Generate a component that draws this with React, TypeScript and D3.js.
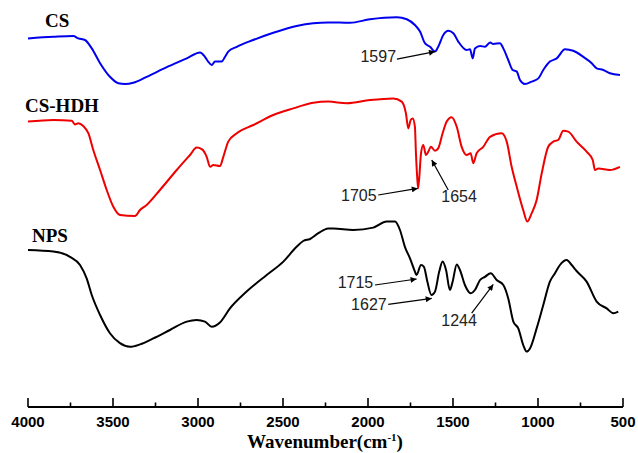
import React from "react";
import * as d3 from "d3";

// [wavenumber (cm-1), transmittance (arb. units, stacked)]
const csSeries: [number, number][] = [
  [4000, 90.4], [3851, 90.8], [3734, 91.0], [3704, 90.4], [3665, 90.0], [3625, 87.9],
  [3576, 84.2], [3518, 80.8], [3469, 79.2], [3429, 79.0], [3381, 79.3], [3302, 80.8],
  [3184, 83.2], [3066, 85.4], [2988, 86.9], [2959, 85.8], [2940, 84.6], [2919, 83.75],
  [2900, 84.6], [2861, 84.6], [2841, 85.8], [2822, 87.1], [2772, 88.3], [2675, 90.0],
  [2557, 91.8], [2420, 93.5], [2322, 94.2], [2234, 94.4], [2106, 94.3], [1988, 95.2],
  [1831, 95.7], [1772, 95.2], [1724, 93.75], [1694, 92.1], [1665, 89.2], [1635, 88.3],
  [1606, 87.1], [1587, 88.3], [1557, 91.25], [1528, 92.3], [1498, 91.7], [1469, 89.6],
  [1420, 87.5], [1400, 87.7], [1384, 85.4], [1371, 87.9], [1341, 88.5], [1312, 88.3],
  [1282, 89.4], [1263, 89.0], [1224, 89.2], [1204, 87.9], [1175, 85.0], [1149, 82.5],
  [1125, 82.1], [1106, 80.0], [1077, 79.0], [1037, 79.6], [998, 80.4], [969, 82.5],
  [930, 84.6], [890, 85.4], [841, 87.7], [793, 87.3], [734, 85.8], [684, 84.2],
  [655, 82.9], [616, 82.5], [577, 81.7], [518, 81.25],
];

const cshdhSeries: [number, number][] = [
  [4000, 69.6], [3851, 70.0], [3743, 69.8], [3724, 68.9], [3704, 69.2], [3675, 68.5],
  [3645, 66.7], [3616, 62.5], [3576, 57.5], [3537, 52.5], [3498, 48.3], [3459, 46.25],
  [3371, 46.0], [3341, 47.5], [3302, 48.75], [3224, 52.5], [3125, 57.5], [3047, 61.25],
  [3008, 63.1], [2978, 62.7], [2949, 60.8], [2929, 58.3], [2910, 58.75], [2871, 58.5],
  [2851, 60.8], [2822, 64.6], [2772, 66.7], [2675, 68.75], [2557, 71.25], [2440, 72.9],
  [2322, 74.3], [2234, 74.6], [2125, 74.2], [1988, 75.0], [1851, 75.4], [1802, 74.6],
  [1777, 71.7], [1763, 67.9], [1749, 70.0], [1737, 70.4], [1724, 68.3], [1718, 61.7],
  [1711, 56.0], [1705, 52.9], [1688, 61.7], [1675, 63.75], [1659, 61.25], [1645, 62.1],
  [1630, 63.3], [1606, 62.3], [1587, 62.9], [1561, 66.7], [1537, 69.6], [1508, 70.7],
  [1478, 68.3], [1449, 63.3], [1420, 61.25], [1396, 61.7], [1381, 59.2], [1361, 61.7],
  [1322, 63.3], [1282, 65.8], [1214, 66.7], [1184, 64.6], [1155, 58.3], [1125, 53.3],
  [1087, 47.5], [1063, 44.6], [1037, 46.7], [1008, 50.0], [978, 56.7], [940, 63.3],
  [910, 64.6], [881, 65.0], [851, 67.3], [822, 67.1], [773, 64.6], [714, 62.1],
  [678, 60.0], [665, 57.5], [645, 57.9], [577, 57.5], [518, 58.3],
];

const npsSeries: [number, number][] = [
  [4000, 37.5], [3851, 37.1], [3753, 35.8], [3694, 33.75], [3655, 30.4], [3625, 26.25],
  [3576, 21.25], [3518, 16.7], [3459, 14.2], [3400, 13.3], [3341, 13.9], [3263, 15.4],
  [3165, 17.5], [3066, 19.6], [3008, 20.0], [2959, 19.6], [2919, 18.3], [2871, 19.4],
  [2812, 22.9], [2714, 27.1], [2596, 31.25], [2498, 34.6], [2420, 38.3], [2381, 39.75],
  [2341, 40.25], [2292, 41.7], [2234, 42.9], [2204, 42.9], [2087, 42.5], [1969, 43.1],
  [1890, 44.6], [1841, 44.6], [1812, 42.5], [1783, 38.3], [1753, 35.4], [1724, 32.1],
  [1715, 31.25], [1688, 33.75], [1671, 33.3], [1651, 29.6], [1627, 26.25], [1606, 27.1],
  [1581, 32.1], [1561, 34.6], [1541, 32.5], [1518, 27.5], [1502, 29.6], [1478, 33.9],
  [1459, 32.5], [1430, 28.75], [1396, 26.7], [1371, 27.5], [1341, 30.0], [1312, 30.8],
  [1278, 31.7], [1243, 30.0], [1204, 28.75], [1175, 25.4], [1145, 19.6], [1116, 17.9],
  [1087, 13.75], [1067, 12.1], [1047, 12.9], [1008, 17.9], [969, 23.75], [930, 29.6],
  [900, 31.7], [871, 33.75], [831, 35.0], [802, 33.75], [773, 32.25], [714, 29.6],
  [655, 24.6], [596, 22.9], [557, 21.7], [528, 22.1],
];

const seriesNames = ["CS", "CS-HDH", "NPS"];
const seriesColors = ["#0000ee", "#ee0000", "#000000"];

const majorTicks = [4000, 3500, 3000, 2500, 2000, 1500, 1000, 500];
const minorTicks = [3750, 3250, 2750, 2250, 1750, 1250, 750];

// annotation: label, arrow tip (wavenumber, T), arrow tail (wavenumber, T), text anchor (wavenumber, T)
const annLabels = ["1597", "1705", "1654", "1715", "1627", "1244"];
const annTip: [number, number][] = [[1606, 87.1], [1707, 52.9], [1625, 60.0], [1714, 30.25], [1625, 25.4], [1263, 28.9]];
const annTail: [number, number][] = [[1830, 85.2], [1940, 51.25], [1528, 52.5], [1959, 28.75], [1881, 23.9], [1390, 21.7]];
const annText: [number, number][] = [[1835, 84.6], [1949, 49.75], [1464, 49.4], [1969, 27.9], [1890, 22.5], [1464, 18.5]];
const annAnchor = ["end", "end", "middle", "end", "end", "middle"];

export default function App() {
  const W = 638, H = 453;
  const x = d3.scaleLinear().domain([4000, 500]).range([28, 623]);
  const y = d3.scaleLinear().domain([0, 100]).range([400, 0]);
  const axisY = 407;
  const line = d3
    .line<[number, number]>()
    .x((d) => x(d[0]))
    .y((d) => y(d[1]))
    .curve(d3.curveMonotoneX);
  const all = [csSeries, cshdhSeries, npsSeries];
  const sans = "'Liberation Sans', Arial, sans-serif";
  const serif = "'Liberation Serif', 'Times New Roman', serif";

  return (
    <svg width={W} height={H} style={{ position: "absolute", left: 0, top: 0, background: "#fff" }}>
      <defs>
        <marker id="arr" viewBox="0 0 10 10" refX="10" refY="5" markerWidth="8" markerHeight="6" orient="auto" markerUnits="userSpaceOnUse">
          <path d="M0,0 L10,5 L0,10 z" fill="#000" />
        </marker>
      </defs>
      {all.map((s, i) => (
        <path key={i} d={line(s) || ""} fill="none" stroke={seriesColors[i]} strokeWidth={2} strokeLinejoin="round" />
      ))}
      <text x={45} y={27} fontFamily={serif} fontWeight="bold" fontSize={19}>{seriesNames[0]}</text>
      <text x={25} y={112} fontFamily={serif} fontWeight="bold" fontSize={19}>{seriesNames[1]}</text>
      <text x={32} y={242} fontFamily={serif} fontWeight="bold" fontSize={19}>{seriesNames[2]}</text>

      {annLabels.map((lab, i) => (
        <g key={lab}>
          <line x1={x(annTail[i][0])} y1={y(annTail[i][1])} x2={x(annTip[i][0])} y2={y(annTip[i][1])} stroke="#000" strokeWidth={1.2} markerEnd="url(#arr)" />
          <text x={x(annText[i][0])} y={y(annText[i][1])} textAnchor={annAnchor[i] as any} fontFamily={sans} fontSize={16} fill="#222">{lab}</text>
        </g>
      ))}

      <line x1={x(4000)} x2={x(500)} y1={axisY} y2={axisY} stroke="#000" strokeWidth={2} />
      {majorTicks.map((t) => (
        <g key={t}>
          <line x1={x(t)} x2={x(t)} y1={axisY} y2={axisY - 9} stroke="#000" strokeWidth={1.6} />
          <text x={x(t)} y={427} textAnchor="middle" fontFamily={sans} fontWeight="bold" fontSize={15}>{t}</text>
        </g>
      ))}
      {minorTicks.map((t) => (
        <line key={t} x1={x(t)} x2={x(t)} y1={axisY} y2={axisY - 4.5} stroke="#000" strokeWidth={1.6} />
      ))}
      <text x={325} y={448} textAnchor="middle" fontFamily={serif} fontWeight="bold" fontSize={19}>
        Wavenumber(cm<tspan dy={-7} fontSize={11}>-1</tspan><tspan dy={7}>)</tspan>
      </text>
    </svg>
  );
}
